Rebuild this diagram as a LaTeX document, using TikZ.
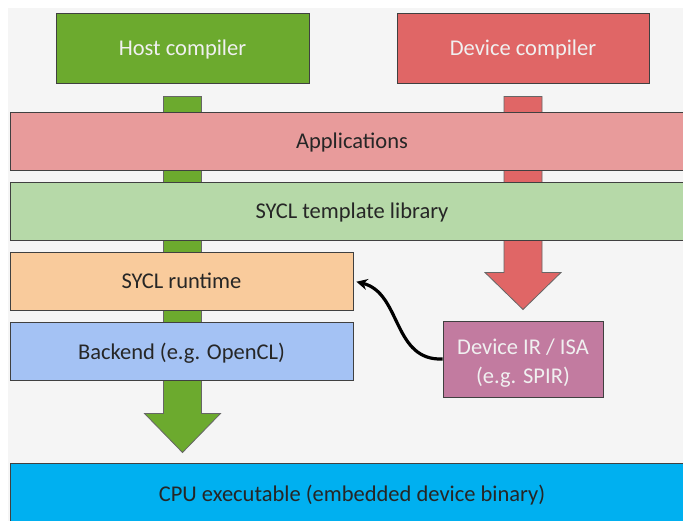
\documentclass[tikz,border=0pt]{standalone}
\usepackage{fontspec}
\setmainfont{Carlito}
\usepackage{tikz}
\usetikzlibrary{calc,arrows.meta,backgrounds}

\definecolor{hostgreen}{RGB}{108,170,46}
\definecolor{devred}{RGB}{224,102,102}
\definecolor{apppink}{RGB}{232,155,155}
\definecolor{tmplgreen}{RGB}{182,217,168}
\definecolor{rtorange}{RGB}{249,203,156}
\definecolor{beblue}{RGB}{164,194,244}
\definecolor{irpurple}{RGB}{194,123,160}
\definecolor{cpucyan}{RGB}{0,176,240}
\definecolor{bggray}{RGB}{245,245,245}

\tikzset{
  layer/.style={draw=black!75, line width=1pt, inner sep=0pt,
    text height=18pt, text depth=3pt,
    font=\fontsize{22.5}{29}\selectfont, text=black!85},
  compiler/.style={layer, text=white!94!black, minimum height=70pt},
  band/.style={layer, minimum width=684pt, minimum height=58pt},
  halfband/.style={layer, minimum width=343pt, minimum height=58pt},
  fatarrow/.style={draw=black!60, line width=0.8pt},
}

\begin{document}
\begin{tikzpicture}[x=1pt,y=1pt]
  \path[use as bounding box, clip] (0,0) rectangle (683,-520);

  \node[compiler, fill=hostgreen, minimum width=253pt] (host) at (182.5,-48) {Host compiler};
  \node[compiler, fill=devred, minimum width=252pt] (device) at (523,-48) {Device compiler};

  \node[band, fill=apppink] (apps) at (352,-141) {Applications};
  \node[band, fill=tmplgreen] (tmpl) at (352,-211) {SYCL template library};
  \node[halfband, fill=rtorange] (runtime) at (181.5,-281) {SYCL runtime};
  \node[halfband, fill=beblue] (backend) at (181.5,-351.5) {Backend (e.g. OpenCL)};
  \node[layer, fill=irpurple, text=white!94!black, align=center,
        text height=54pt, text depth=5.6pt,
        minimum width=160pt, minimum height=76pt] (devir) at (523,-359) {Device IR / ISA\\(e.g. SPIR)};
  \node[layer, fill=cpucyan, minimum width=684pt, minimum height=62pt] (cpu) at (352,-494) {CPU executable (embedded device binary)};

  % IR goes back into the runtime
  \draw[line width=3.2pt, shorten >=3pt, -{Stealth[length=11pt,width=11pt]}]
    (devir.west) .. controls +(-50,-2) and +(48,-12) .. (runtime.east);

  \begin{scope}[on background layer]
    \fill[bggray] (8,-8) rectangle (700,-530);
    % host path
    \coordinate (gtop) at ($(host.south)+(0,-13)$);
    \coordinate (gtip) at ($(host.south |- cpu.north)+(0,10)$);
    \draw[fatarrow, fill=hostgreen] ($(gtop)+(-19,0)$) -- ($(gtip)+(-19,39)$)
      -- ($(gtip)+(-38,39)$) -- (gtip) -- ($(gtip)+(38,39)$)
      -- ($(gtip)+(19,39)$) -- ($(gtop)+(19,0)$) -- cycle;
    % device path
    \coordinate (rtop) at ($(device.south)+(0,-13)$);
    \coordinate (rtip) at ($(device.south |- devir.north)+(0,11)$);
    \draw[fatarrow, fill=devred] ($(rtop)+(-19,0)$) -- ($(rtip)+(-19,37)$)
      -- ($(rtip)+(-38,37)$) -- (rtip) -- ($(rtip)+(38,37)$)
      -- ($(rtip)+(19,37)$) -- ($(rtop)+(19,0)$) -- cycle;
  \end{scope}
\end{tikzpicture}
\end{document}
